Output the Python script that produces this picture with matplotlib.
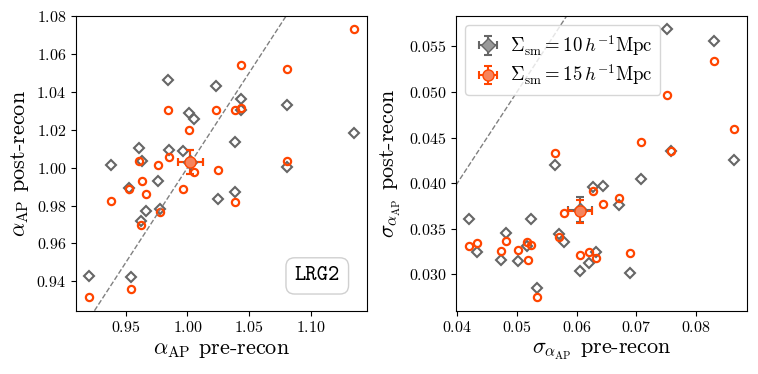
import numpy as np
import matplotlib
matplotlib.use("Agg")
import matplotlib.pyplot as plt

plt.rcParams["font.family"] = ["cmr10", "DejaVu Serif"]
plt.rcParams["mathtext.fontset"] = "cm"
plt.rcParams["axes.formatter.use_mathtext"] = True

# ── data ─────────────────────────────────────────────────────────────────────
# alpha_AP: pre-recon (shared by both smoothing scales) and post-recon
alpha_pre = [0.9203, 0.9381, 0.9527, 0.9540, 0.9604, 0.9624, 0.9635, 0.9662,
             0.9760, 0.9778, 0.9846, 0.9850, 0.9962, 1.0012, 1.0052, 1.0228,
             1.0245, 1.0384, 1.0387, 1.0437, 1.0438, 1.0810, 1.0810, 1.1350]
alpha_post_10 = [0.9428, 1.0016, 0.9894, 0.9423, 1.0104, 0.9720, 1.0037, 0.9773,
                 0.9931, 0.9782, 1.0461, 1.0095, 1.0090, 1.0290, 1.0255, 1.0433,
                 0.9833, 1.0137, 0.9870, 1.0362, 1.0304, 1.0331, 1.0005, 1.0181]
alpha_post_15 = [0.9316, 0.9822, 0.9889, 0.9360, 1.0037, 0.9699, 0.9930, 0.9859,
                 1.0016, 0.9766, 1.0304, 1.0055, 0.9887, 1.0199, 0.9975, 1.0304,
                 0.9988, 1.0304, 0.9817, 1.0317, 1.0542, 1.0519, 1.0035, 1.0730]

# sigma(alpha_AP)
sigma_pre = [0.0420, 0.0433, 0.0473, 0.0482, 0.0501, 0.0517, 0.0518, 0.0523,
             0.0534, 0.0563, 0.0570, 0.0579, 0.0605, 0.0620, 0.0627, 0.0632,
             0.0645, 0.0671, 0.0689, 0.0708, 0.0751, 0.0758, 0.0830, 0.0864]
sigma_post_10 = [0.03606, 0.03248, 0.03161, 0.03453, 0.03142, 0.03306, np.nan, 0.03606,
                 0.02854, 0.04204, 0.03442, 0.03350, 0.03032, 0.03124, 0.03957, 0.03240,
                 0.03963, 0.03763, 0.03015, 0.04044, 0.05686, 0.04347, 0.05555, 0.04248]
sigma_post_15 = [0.03310, 0.03339, 0.03251, 0.03369, 0.03270, 0.03354, 0.03157, 0.03317,
                 0.02748, 0.04328, 0.03405, 0.03672, 0.03215, 0.03248, 0.03913, 0.03182,
                 0.03774, 0.03836, 0.03230, 0.04456, 0.04967, 0.04347, 0.05336, 0.04591]

# mean points with error bars: (x, y, xerr, yerr)
alpha_mean_10 = (1.0022, 1.0031, 0.0101, 0.0064)
alpha_mean_15 = (1.0022, 1.0028, 0.0101, 0.0063)
sigma_mean_10 = (0.0605, 0.0371, 0.0020, 0.0014)
sigma_mean_15 = (0.0605, 0.0369, 0.0020, 0.0013)

labels = [r"$\Sigma_{\rm sm}=10\,h^{-1}{\rm Mpc}$",
          r"$\Sigma_{\rm sm}=15\,h^{-1}{\rm Mpc}$"]

GRAY = "#666666"
ORANGE = "#ff4500"

fig = plt.figure(figsize=(7.58, 3.74), dpi=100)
ax1 = fig.add_axes([0.1003, 0.1693, 0.3839, 0.788])
ax2 = fig.add_axes([0.6016, 0.1693, 0.3843, 0.788])


def draw(ax, x, y10, y15, m10, m15):
    ax.plot(x, y10, ls="none", marker="D", ms=4.8, mfc="none", mec=GRAY, mew=1.5)
    ax.plot(x, y15, ls="none", marker="o", ms=5.2, mfc="none", mec=ORANGE, mew=1.6)
    h10 = ax.errorbar(m10[0], m10[1], xerr=m10[2], yerr=m10[3], fmt="D", ms=7,
                      color=GRAY, mfc="#999999", mec=GRAY, elinewidth=1.5,
                      capsize=3, capthick=1.5, label=labels[0])
    h15 = ax.errorbar(m15[0], m15[1], xerr=m15[2], yerr=m15[3], fmt="o", ms=8,
                      color=ORANGE, mfc="#f7845c", mec=ORANGE, elinewidth=1.5,
                      capsize=3, capthick=1.5, label=labels[1])
    # freeze the auto limits before adding the 1:1 line
    ax.autoscale_view()
    xl, yl = ax.get_xlim(), ax.get_ylim()
    ax.axline((0, 0), slope=1, ls="--", color="gray", lw=1)
    ax.set_xlim(xl)
    ax.set_ylim(yl)
    ax.tick_params(labelsize=11.5)
    return h10, h15


draw(ax1, alpha_pre, alpha_post_10, alpha_post_15, alpha_mean_10, alpha_mean_15)
h10, h15 = draw(ax2, sigma_pre, sigma_post_10, sigma_post_15, sigma_mean_10, sigma_mean_15)

ax1.set_xticks([0.95, 1.00, 1.05, 1.10])
ax1.set_yticks([0.94, 0.96, 0.98, 1.00, 1.02, 1.04, 1.06, 1.08])
ax1.set_xlabel(r"$\alpha_{\rm AP}$ pre-recon", fontsize=16)
ax1.set_ylabel(r"$\alpha_{\rm AP}$ post-recon", fontsize=16)
ax1.text(0.829, 0.118, "LRG2", transform=ax1.transAxes, ha="center", va="center",
         fontsize=15.5, family="cmtt10",
         bbox=dict(boxstyle="round,pad=0.4", fc="white", ec="#d0d0d0", lw=1))

ax2.set_xticks([0.04, 0.05, 0.06, 0.07, 0.08])
ax2.set_yticks([0.030, 0.035, 0.040, 0.045, 0.050, 0.055])
ax2.set_xlabel(r"$\sigma_{\alpha_{\rm AP}}$ pre-recon", fontsize=16)
ax2.set_ylabel(r"$\sigma_{\alpha_{\rm AP}}$ post-recon", fontsize=16)
ax2.legend(handles=[h10, h15], loc="upper left", fontsize=13.5, handletextpad=0.4,
           borderaxespad=0.5, handlelength=1.6, labelspacing=0.25)

fig.savefig("out.png", dpi=100)
